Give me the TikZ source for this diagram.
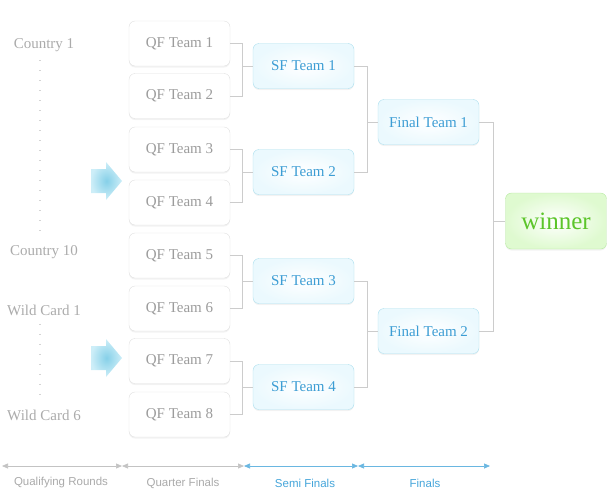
\documentclass[tikz,border=0pt]{standalone}
\usepackage{fontspec}
\setmainfont{Liberation Serif}
\setsansfont{Liberation Sans}
\usetikzlibrary{arrows.meta,shadows}

\definecolor{qftext}{HTML}{9C9C9C}
\definecolor{qfborder}{HTML}{E0E0E0}
\definecolor{sftext}{HTML}{3C9DD4}
\definecolor{sfborder}{HTML}{AADFEE}
\definecolor{sffill}{HTML}{EBF9FE}
\definecolor{wintext}{HTML}{5CC52A}
\definecolor{winborder}{HTML}{B6E9A0}
\definecolor{winfill}{HTML}{DFFAD0}
\definecolor{linkgray}{HTML}{CCCCCC}
\definecolor{stagegray}{HTML}{AAAAAA}
\definecolor{stageblue}{HTML}{45A5DA}
\definecolor{pointer}{HTML}{86D0E8}
\definecolor{pointerout}{HTML}{CDEEF8}

\begin{document}
\begin{tikzpicture}[
		x=1pt, y=-1pt,
		every node/.style={font=\fontsize{15}{17}\selectfont},
		team/.style={rectangle, rounded corners=6pt, draw=qfborder, fill=white, text=qftext,
			minimum width=101pt, minimum height=45pt,
			drop shadow={opacity=0.10, shadow xshift=0pt, shadow yshift=-1.5pt}},
		semi/.style={team, draw=sfborder, text=sftext, inner color=white, outer color=sffill},
		champ/.style={team, draw=winborder, text=wintext, inner color=white, outer color=winfill,
			minimum height=56pt, font=\fontsize{25}{27}\selectfont},
		side/.style={text=qftext!85},
		link/.style={draw=linkgray, line width=0.7pt},
		dots/.style={draw=linkgray!85, line width=1.3pt, dash pattern=on 1.3pt off 8.7pt},
		stage/.style={line width=0.7pt, arrows={Triangle[length=6pt,width=5pt]-Triangle[length=6pt,width=5pt]}},
		stagelabel/.style={font=\sffamily\fontsize{11.5}{13}\selectfont}
	]
  \useasboundingbox (0,0) rectangle (607,490);

  \node (country_1) [side] at (44,45) {Country 1};
  \node (country_10) [side] at (44,252) {Country 10};
  \node (wild_1) [side] at (44,310) {Wild Card 1};
  \node (wild_6) [side] at (44,415) {Wild Card 6};
  \draw[dots] ([xshift=-4pt, yshift=-5pt]country_1.south) -- ([xshift=-4pt, yshift=5pt]country_10.north);
  \draw[dots] ([xshift=-4pt, yshift=-5pt]wild_1.south) -- ([xshift=-4pt, yshift=5pt]wild_6.north);

  \shade[inner color=pointer, outer color=pointerout] (91,169) -- (106,169) -- (106,162) -- (122,181) -- (106,200) -- (106,193) -- (91,193) -- cycle;
  \shade[inner color=pointer, outer color=pointerout] (91,346) -- (106,346) -- (106,339) -- (122,358) -- (106,377) -- (106,370) -- (91,370) -- cycle;

  \node (qf_1) [team] at (179.5,43.5) {QF Team 1};
  \node (qf_2) [team] at (179.5,96) {QF Team 2};
  \node (qf_3) [team] at (179.5,149.5) {QF Team 3};
  \node (qf_4) [team] at (179.5,202.5) {QF Team 4};
  \node (qf_5) [team] at (179.5,255.5) {QF Team 5};
  \node (qf_6) [team] at (179.5,308.5) {QF Team 6};
  \node (qf_7) [team] at (179.5,361) {QF Team 7};
  \node (qf_8) [team] at (179.5,414.5) {QF Team 8};

  \node (sf_1) [semi] at (303.5,66) {SF Team 1};
  \node (sf_2) [semi] at (303.5,172) {SF Team 2};
  \node (sf_3) [semi] at (303.5,281) {SF Team 3};
  \node (sf_4) [semi] at (303.5,387) {SF Team 4};

  \node (final_1) [semi] at (428.5,122) {Final Team 1};
  \node (final_2) [semi] at (428.5,331) {Final Team 2};

  \node (winner) [champ] at (556,221) {winner};

  \coordinate (j_1) at ([xshift=-10pt]sf_1.west);
  \coordinate (j_2) at ([xshift=-10pt]sf_2.west);
  \coordinate (j_3) at ([xshift=-10pt]sf_3.west);
  \coordinate (j_4) at ([xshift=-10pt]sf_4.west);
  \coordinate (j_5) at ([xshift=-10pt]final_1.west);
  \coordinate (j_6) at ([xshift=-10pt]final_2.west);
  \coordinate (j_7) at ([xshift=-12pt]winner.west);
  \draw[link] (qf_1.east) -| (j_1) |- (qf_2.east);
  \draw[link] (j_1) -- (sf_1.west);
  \draw[link] (qf_3.east) -| (j_2) |- (qf_4.east);
  \draw[link] (j_2) -- (sf_2.west);
  \draw[link] (qf_5.east) -| (j_3) |- (qf_6.east);
  \draw[link] (j_3) -- (sf_3.west);
  \draw[link] (qf_7.east) -| (j_4) |- (qf_8.east);
  \draw[link] (j_4) -- (sf_4.west);
  \draw[link] (sf_1.east) -| (j_5) |- (sf_2.east);
  \draw[link] (j_5) -- (final_1.west);
  \draw[link] (sf_3.east) -| (j_6) |- (sf_4.east);
  \draw[link] (j_6) -- (final_2.west);
  \draw[link] (final_1.east) -| (j_7) |- (final_2.east);
  \draw[link] (j_7) -- (winner.west);

  \coordinate (r_0) at (2,466);
  \coordinate (r_1) at (122,466);
  \coordinate (r_2) at (244,466);
  \coordinate (r_3) at (358,466);
  \coordinate (r_4) at (490,466);
  \draw[stage, draw=stagegray!70, fill=stagegray] (r_0) -- (r_1);
  \draw[stage, draw=stagegray!70, fill=stagegray] (r_1) -- (r_2);
  \draw[stage, draw=stageblue!80, fill=stageblue] (r_2) -- (r_3);
  \draw[stage, draw=stageblue!80, fill=stageblue] (r_3) -- (r_4);
  \node (qualifying) [stagelabel, text=stagegray] at (61,483) {Qualifying Rounds};
  \node (quarter) [stagelabel, text=stagegray] at (183,483) {Quarter Finals};
  \node (semi) [stagelabel, text=stageblue] at (305,483) {Semi Finals};
  \node (finals) [stagelabel, text=stageblue] at (425,483) {Finals};
\end{tikzpicture}
\end{document}
